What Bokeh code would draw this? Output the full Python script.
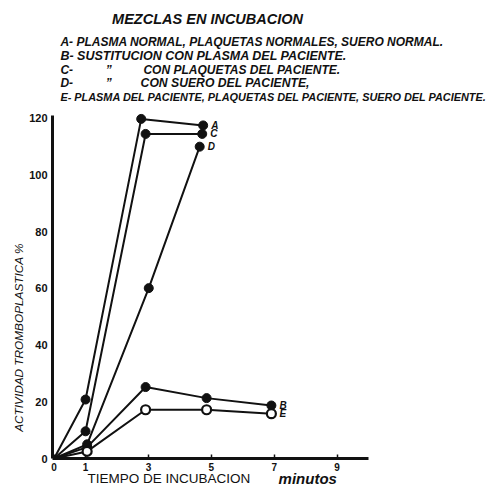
import math
from bokeh.plotting import figure
from bokeh.models import Range1d, Label, FixedTicker
from bokeh.core.properties import value
from bokeh.embed import file_html
from bokeh.resources import INLINE

# ---- data ----
series_names = ["A", "B", "C", "D", "E"]
time_A = [0, 1.0, 2.77, 4.74]
act_A = [0, 20.8, 119.8, 117.5]
time_B = [0, 1.05, 2.91, 4.85, 6.91]
act_B = [0, 4.0, 25.2, 21.3, 18.7]
time_C = [0, 1.0, 2.91, 4.71]
act_C = [0, 9.6, 114.5, 114.5]
time_D = [0, 1.05, 3.01, 4.63]
act_D = [0, 5.0, 60.1, 110.0]
time_E = [0, 1.05, 2.91, 4.85, 6.91]
act_E = [0, 2.5, 17.2, 17.2, 15.8]
x_ticks = [0, 1, 3, 5, 7, 9]
y_ticks = [0, 20, 40, 60, 80, 100, 120]

title_text = "MEZCLAS EN INCUBACION"
line_A = "A- PLASMA NORMAL, PLAQUETAS NORMALES, SUERO NORMAL."
line_B = "B- SUSTITUCION  CON PLASMA  DEL PACIENTE."
line_C_head, line_C_body = "C-", "CON PLAQUETAS DEL PACIENTE."
line_D_head, line_D_body = "D-", "CON SUERO DEL PACIENTE,"
line_E = "E- PLASMA DEL PACIENTE, PLAQUETAS DEL PACIENTE, SUERO DEL PACIENTE."
ditto = "\u201D"
y_title = "ACTIVIDAD TROMBOPLASTICA %"
x_title = "TIEMPO DE INCUBACION"
x_unit = "minutos"

FONT = "Liberation Sans"
INK = "#111111"

p = figure(width=488, height=487, x_range=Range1d(-1.705, 13.815), y_range=Range1d(-10.23, 161.57),
           output_backend="svg", toolbar_location=None,
           min_border_left=0, min_border_right=0, min_border_top=0, min_border_bottom=0)
p.outline_line_color = None
p.background_fill_color = "white"
p.border_fill_color = "white"
p.xgrid.visible = False
p.ygrid.visible = False

# axes drawn at the data origin, spanning the drawn area only
p.xaxis.fixed_location = 0
p.yaxis.fixed_location = -0.05
p.xaxis.bounds = (-0.05, 10.0)
p.yaxis.bounds = (0, 121)
p.xaxis.ticker = FixedTicker(ticks=x_ticks)
p.yaxis.ticker = FixedTicker(ticks=y_ticks)
for ax in (p.xaxis, p.yaxis):
    ax.axis_line_width = 3
    ax.axis_line_color = INK
    ax.major_tick_line_color = INK
    ax.minor_tick_line_color = None
    ax.major_label_text_color = INK
    ax.major_label_text_font = FONT
    ax.major_label_text_font_style = "bold"
p.xaxis.major_tick_in = 4
p.xaxis.major_tick_out = 1
p.xaxis.major_tick_line_width = 1.5
p.xaxis.major_label_standoff = 3
p.xaxis.major_label_text_font_size = "10px"
p.yaxis.major_tick_in = 0
p.yaxis.major_tick_out = 0
p.yaxis.major_label_standoff = 5
p.yaxis.major_label_text_font_size = "11px"

# series lines and markers
series = [(time_A, act_A), (time_B, act_B), (time_C, act_C), (time_D, act_D), (time_E, act_E)]
for name, (xs, ys) in zip(series_names, series):
    p.line(xs, ys, line_color=INK, line_width=2)
    if name == "E":
        p.scatter(xs[1:], ys[1:], size=9, fill_color="white", line_color=INK, line_width=2.2)
    else:
        p.scatter(xs[1:], ys[1:], size=9, fill_color=INK, line_color=INK)

# end-of-line letters
p.text(x=[s[0][-1] for s in series], y=[s[1][-1] for s in series], text=series_names,
       x_offset=8, text_align="left", text_baseline="middle",
       text_font=value(FONT), text_font_style="bold italic", text_font_size="10px",
       text_color=INK)

def lab(x, y, text, size, style="bold italic", align="left", baseline="middle", angle=0.0):
    p.add_layout(Label(x=x, y=y, text=text, text_font=FONT, text_font_size=size,
                       text_font_style=style, text_align=align, text_baseline=baseline,
                       angle=angle, text_color=INK))

# header
lab(4.88, 155.2, title_text, "14.5px", align="center")
lab(0.20, 147.1, line_A, "12px")
lab(0.20, 142.0, line_B, "12.5px")
lab(0.20, 137.2, line_C_head, "12px")
lab(1.64, 137.2, ditto, "12px")
lab(2.84, 137.2, line_C_body, "12px")
lab(0.20, 132.3, line_D_head, "12px")
lab(1.64, 132.3, ditto, "12px")
lab(2.75, 132.3, line_D_body, "12.2px")
lab(0.20, 127.4, line_E, "10.9px")

# axis titles
lab(-1.13, 42.7, y_title, "11.8px", style="italic", align="center", angle=math.pi / 2)
lab(1.06, -7.2, x_title, "13.5px", style="normal", baseline="alphabetic")
lab(7.14, -7.2, x_unit, "15px", style="bold italic", baseline="alphabetic")

open("out.html", "w").write(file_html(p, INLINE))
